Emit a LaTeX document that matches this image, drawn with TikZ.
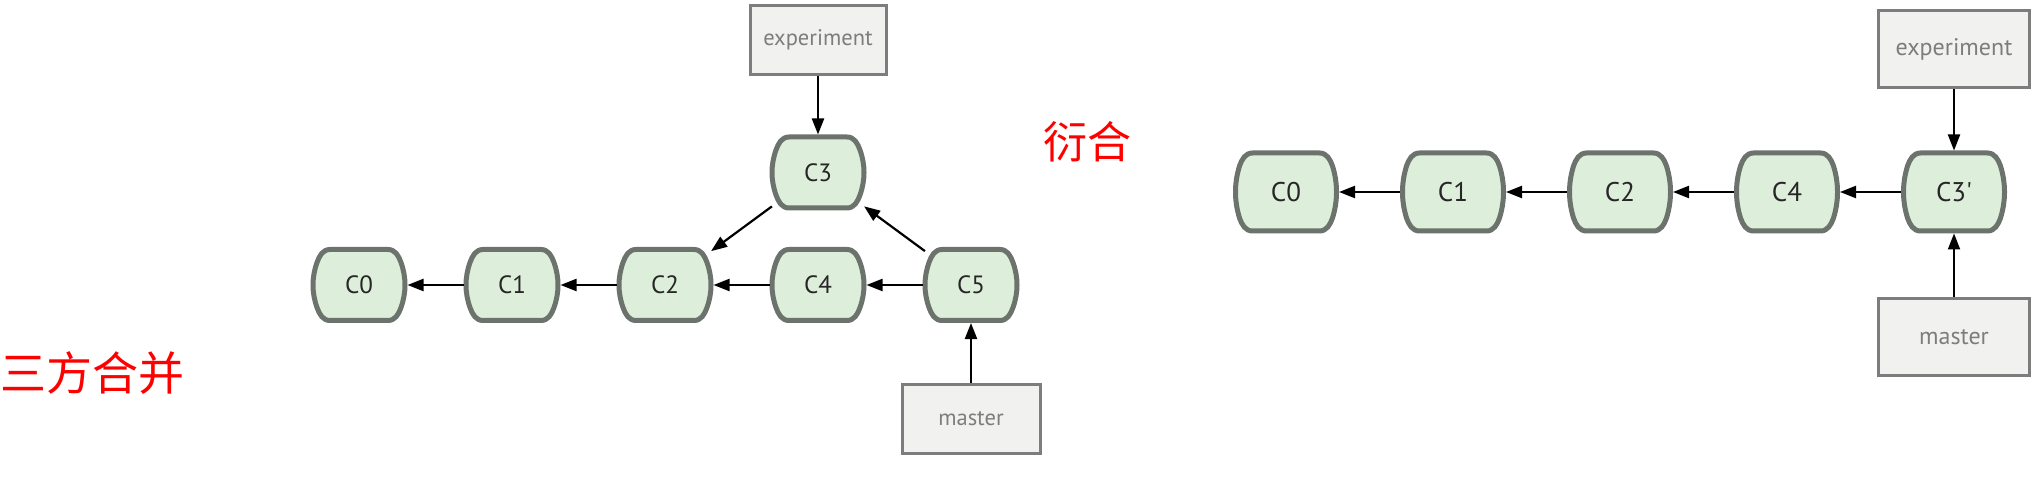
\documentclass[tikz,border=0pt]{standalone}
\usepackage{fontspec}
\setmainfont{PT Sans}
\newfontfamily\cjkfont{Noto Sans CJK SC}
\usepackage{tikz}
\usetikzlibrary{arrows.meta, positioning}

\definecolor{commitfill}{RGB}{221,239,218}
\definecolor{commitline}{RGB}{108,114,108}
\definecolor{branchfill}{RGB}{241,241,239}
\definecolor{branchline}{RGB}{125,125,125}

% commit box: flat top and bottom, sides bowed outwards
\newdimen\brlxl \newdimen\brlxr \newdimen\brlyb \newdimen\brlyt
\newdimen\brlox \newdimen\brloy \newdimen\brlh
\newdimen\brlin \brlin=4pt
\newdimen\brlr  \brlr=13pt
\makeatletter
\pgfdeclareshape{barrel}{
  \inheritsavedanchors[from=rectangle]
  \inheritanchorborder[from=rectangle]
  \inheritanchor[from=rectangle]{center}
  \inheritanchor[from=rectangle]{mid}
  \inheritanchor[from=rectangle]{base}
  \inheritanchor[from=rectangle]{north}
  \inheritanchor[from=rectangle]{south}
  \inheritanchor[from=rectangle]{east}
  \inheritanchor[from=rectangle]{west}
  \inheritanchor[from=rectangle]{north east}
  \inheritanchor[from=rectangle]{north west}
  \inheritanchor[from=rectangle]{south east}
  \inheritanchor[from=rectangle]{south west}
  \backgroundpath{%
    \pgfmathsetlength\brlox{\pgfkeysvalueof{/pgf/outer xsep}}%
    \pgfmathsetlength\brloy{\pgfkeysvalueof{/pgf/outer ysep}}%
    \southwest \brlxl=\pgf@x \brlyb=\pgf@y
    \northeast \brlxr=\pgf@x \brlyt=\pgf@y
    \advance\brlxl by \brlox \advance\brlyb by \brloy
    \advance\brlxr by -\brlox \advance\brlyt by -\brloy
    \brlh=\dimexpr(\brlyt-\brlyb-2\brlr)/3\relax
    \pgfpathmoveto{\pgfqpoint{\dimexpr\brlxl+\brlin+\brlr\relax}{\brlyt}}%
    \pgfpathlineto{\pgfqpoint{\dimexpr\brlxr-\brlin-\brlr\relax}{\brlyt}}%
    \pgfpathcurveto
      {\pgfqpoint{\dimexpr\brlxr-\brlin-.45\brlr\relax}{\brlyt}}
      {\pgfqpoint{\dimexpr\brlxr-1.6\brlin\relax}{\dimexpr\brlyt-.48\brlr\relax}}
      {\pgfqpoint{\dimexpr\brlxr-\brlin\relax}{\dimexpr\brlyt-\brlr\relax}}%
    \pgfpathcurveto
      {\pgfqpoint{\dimexpr\brlxr+\brlin/3\relax}{\dimexpr\brlyt-\brlr-\brlh\relax}}
      {\pgfqpoint{\dimexpr\brlxr+\brlin/3\relax}{\dimexpr\brlyb+\brlr+\brlh\relax}}
      {\pgfqpoint{\dimexpr\brlxr-\brlin\relax}{\dimexpr\brlyb+\brlr\relax}}%
    \pgfpathcurveto
      {\pgfqpoint{\dimexpr\brlxr-1.6\brlin\relax}{\dimexpr\brlyb+.48\brlr\relax}}
      {\pgfqpoint{\dimexpr\brlxr-\brlin-.45\brlr\relax}{\brlyb}}
      {\pgfqpoint{\dimexpr\brlxr-\brlin-\brlr\relax}{\brlyb}}%
    \pgfpathlineto{\pgfqpoint{\dimexpr\brlxl+\brlin+\brlr\relax}{\brlyb}}%
    \pgfpathcurveto
      {\pgfqpoint{\dimexpr\brlxl+\brlin+.45\brlr\relax}{\brlyb}}
      {\pgfqpoint{\dimexpr\brlxl+1.6\brlin\relax}{\dimexpr\brlyb+.48\brlr\relax}}
      {\pgfqpoint{\dimexpr\brlxl+\brlin\relax}{\dimexpr\brlyb+\brlr\relax}}%
    \pgfpathcurveto
      {\pgfqpoint{\dimexpr\brlxl-\brlin/3\relax}{\dimexpr\brlyb+\brlr+\brlh\relax}}
      {\pgfqpoint{\dimexpr\brlxl-\brlin/3\relax}{\dimexpr\brlyt-\brlr-\brlh\relax}}
      {\pgfqpoint{\dimexpr\brlxl+\brlin\relax}{\dimexpr\brlyt-\brlr\relax}}%
    \pgfpathcurveto
      {\pgfqpoint{\dimexpr\brlxl+1.6\brlin\relax}{\dimexpr\brlyt-.48\brlr\relax}}
      {\pgfqpoint{\dimexpr\brlxl+\brlin+.45\brlr\relax}{\brlyt}}
      {\pgfqpoint{\dimexpr\brlxl+\brlin+\brlr\relax}{\brlyt}}%
    \pgfpathclose
  }
}
\makeatother

\begin{document}
\begin{tikzpicture}[
    x=1pt, y=-1pt,
    commit/.style={shape=barrel, draw=commitline, fill=commitfill, line width=5pt, minimum width=92pt, minimum height=71pt, inner sep=0pt, font=\fontsize{25}{28}\selectfont, text=black!85},
    bigcommit/.style={commit, minimum width=101pt, minimum height=78pt, font=\fontsize{27}{30}\selectfont},
    branch/.style={draw=branchline, fill=branchfill, line width=3pt, minimum width=136pt, minimum height=69pt, inner sep=0pt, font=\fontsize{22.5}{26}\selectfont, text=branchline},
    bigbranch/.style={branch, minimum width=151pt, minimum height=77pt, font=\fontsize{24}{28}\selectfont},
    arr/.style={-{Triangle[length=16pt, width=12pt]}, line width=2.2pt},
    note/.style={text=red, inner sep=0pt, anchor=base west, font=\cjkfont\fontsize{46}{50}\selectfont},
]
\useasboundingbox (0,0) rectangle (2040,478);

% three-way merge
\node[note] (merge) at (0,390) {三方合并};
\node[commit] (c0) at (359,285) {C0};
\node[commit, right=56pt of c0] (c1) {C1};
\node[commit, right=56pt of c1] (c2) {C2};
\node[commit, right=56pt of c2] (c4) {C4};
\node[commit, right=56pt of c4] (c5) {C5};
\node[commit, above=36.5pt of c4] (c3) {C3};
\node[branch, above=58.5pt of c3] (exp) {experiment};
\node[branch, below=60pt of c5, minimum width=138pt] (master) {master};

\draw[arr] (c1) -- (c0);
\draw[arr] (c2) -- (c1);
\draw[arr] (c4) -- (c2);
\draw[arr] (c5) -- (c4);
\draw[arr, shorten <=-3pt, shorten >=-3pt] (c3) -- (c2);
\draw[arr, shorten <=-3pt, shorten >=-3pt] (c5) -- (c3);
\draw[arr] (exp) -- (c3);
\draw[arr] (master) -- (c5);

% rebase
\node[note, font=\cjkfont\fontsize{44}{48}\selectfont] (rebase) at (1043,159) {衍合};
\node[bigcommit] (rc0) at (1286,192) {C0};
\node[bigcommit, right=61pt of rc0] (rc1) {C1};
\node[bigcommit, right=61pt of rc1] (rc2) {C2};
\node[bigcommit, right=61pt of rc2] (rc4) {C4};
\node[bigcommit, right=61pt of rc4] (rc3) {C3\textquotesingle};
\node[bigbranch, above=61.5pt of rc3] (rexp) {experiment};
\node[bigbranch, below=63.5pt of rc3] (rmaster) {master};

\draw[arr] (rc1) -- (rc0);
\draw[arr] (rc2) -- (rc1);
\draw[arr] (rc4) -- (rc2);
\draw[arr] (rc3) -- (rc4);
\draw[arr] (rexp) -- (rc3);
\draw[arr] (rmaster) -- (rc3);
\end{tikzpicture}
\end{document}
